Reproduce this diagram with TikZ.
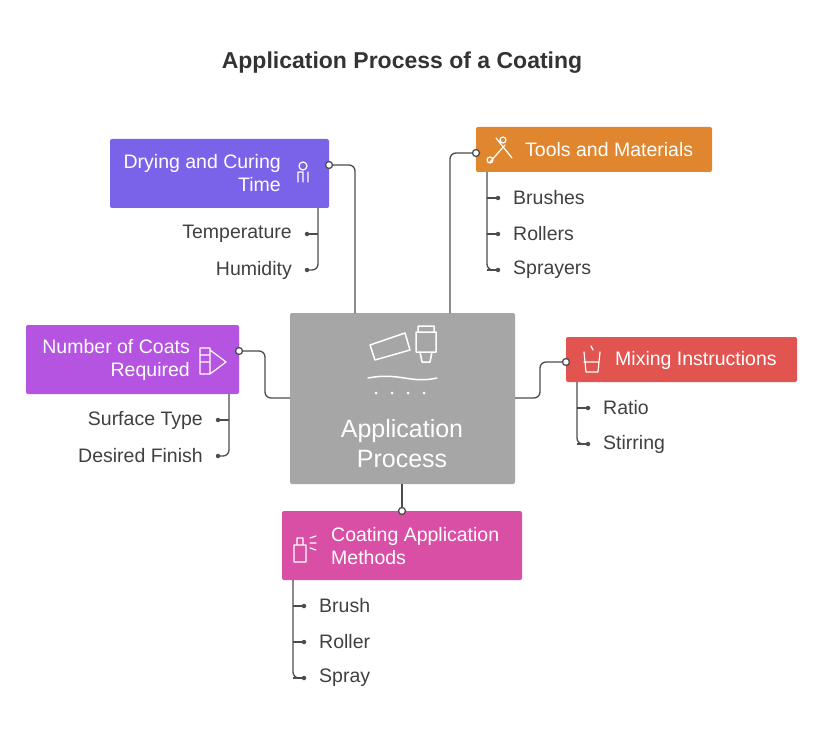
\documentclass[tikz,border=0pt]{standalone}
\usepackage{fontspec}
\setmainfont{Liberation Sans}
\begin{document}
\begin{tikzpicture}[x=1pt,y=-1pt,
 box/.style={draw=none,rounded corners=2pt},
 lbl/.style={text=white,font=\fontsize{19.5}{23}\selectfont,align=left,inner sep=0pt},
 item/.style={text=black!75,font=\fontsize{19.5}{23}\selectfont,inner sep=0pt},
 conn/.style={draw=black!70,line width=1.3pt,rounded corners=6pt},
 tick/.style={draw=black!70,line width=1.3pt},
 dot/.style={circle,fill=white,draw=black!70,line width=1.3pt,inner sep=0pt,minimum size=7pt},
 bul/.style={circle,fill=black!70,inner sep=0pt,minimum size=4.5pt},
 ic/.style={draw=white,line width=1.2pt,line cap=round,line join=round}]
\useasboundingbox (0,0) rectangle (827,738);
\node[font=\bfseries\fontsize{23}{27}\selectfont,text=black!80] (title) at (402,63) {Application Process of a Coating};
% central
\fill[black!35,rounded corners=2pt] (290,313) rectangle (515,484);
\node (c) at (402,398) {};
\node[text=white,font=\fontsize{25}{30}\selectfont,align=center] (ctext) at (402,444) {Application\\Process};
\draw[ic,line width=1.5pt] (370,345) -- (405,333) -- (410,350) -- (375,360) -- cycle;
\draw[ic,line width=1.5pt] (416,332) rectangle (436,352) (420,352) -- (422,362) -- (430,362) -- (432,352) (418,332) -- (418,326) -- (434,326) -- (434,332);
\draw[ic,line width=1.5pt] (368,378) .. controls (400,372) and (410,384) .. (437,378);
\foreach \x in {376,392,408,424} \fill[white] (\x,393) circle (1.5pt);
% Drying
\fill[box,fill={rgb,255:red,123;green,99;blue,233}] (110,139) rectangle (329,208);
\node[lbl,align=right,anchor=east] (dry) at (281,173) {Drying and Curing\\Time};
\draw[ic] (303,182) -- (303,172) -- (298,172) -- (298,182) (308,182)--(308,172) (303,166) circle (4pt);
\node[dot] (d1) at (329,165) {};
\draw[conn] (d1) -- (355,165) -- (355,313);
\draw[conn] (318,208) -- (318,270) -- (308,270);
\node[item,anchor=east] at (292,234) {Temperature}; \node[bul] (b1) at (307,234) {}; \draw[tick] (b1) -- (318,234);
\node[item,anchor=east] at (292,270) {Humidity}; \node[bul] at (307,270) {};
% Tools
\fill[box,fill={rgb,255:red,224;green,134;blue,47}] (476,127) rectangle (712,172);
\node[lbl,anchor=west] (tools) at (525,150) {Tools and Materials};
\draw[ic] (490,162) -- (505,145) (496,138) -- (512,158) (503,140) circle (3pt) (490,160) circle (3pt);
\node[dot] (t1) at (476,153) {};
\draw[conn] (t1) -- (450,153) -- (450,313);
\draw[conn] (487,172) -- (487,270) -- (497,270);
\foreach \t/\y in {Brushes/198,Rollers/234,Sprayers/270}{\node[item,anchor=west] at (513,\y) {\t}; \node[bul] at (498,\y) {}; \draw[tick] (487,\y) -- (498,\y);}
% Number of coats
\fill[box,fill={rgb,255:red,181;green,84;blue,224}] (26,325) rectangle (239,394);
\node[lbl,align=right,anchor=east] (num) at (190,360) {Number of Coats\\Required};
\draw[ic] (200,348) rectangle (210,374) (200,355)--(210,355) (200,362)--(210,362) (210,350) -- (226,362) -- (210,374);
\node[dot] (n1) at (239,351) {};
\draw[conn] (n1) -- (265,351) -- (265,398) -- (290,398);
\draw[conn] (229,394) -- (229,456) -- (219,456);
\node[item,anchor=east] at (203,420) {Surface Type}; \node[bul] at (218,420) {}; \draw[tick] (218,420) -- (229,420);
\node[item,anchor=east] at (203,456) {Desired Finish}; \node[bul] at (218,456) {};
% Mixing
\fill[box,fill={rgb,255:red,225;green,84;blue,80}] (566,337) rectangle (797,382);
\node[lbl,anchor=west] (mix) at (615,360) {Mixing Instructions};
\draw[ic] (584,352) -- (586,372) -- (598,372) -- (600,352) (584,362)--(599,362) (591,346)--(593,350);
\node[dot] (m1) at (566,362) {};
\draw[conn] (m1) -- (540,362) -- (540,398) -- (515,398);
\draw[conn] (577,382) -- (577,444) -- (587,444);
\foreach \t/\y in {Ratio/408,Stirring/444}{\node[item,anchor=west] at (603,\y) {\t}; \node[bul] at (588,\y) {}; \draw[tick] (577,\y) -- (588,\y);}
% Coating methods
\fill[box,fill={rgb,255:red,217;green,79;blue,166}] (282,511) rectangle (522,580);
\node[lbl,anchor=west] (coat) at (331,546) {Coating Application\\Methods};
\draw[ic] (294,545) rectangle (306,562) (297,545) -- (297,538) -- (303,538) -- (303,545) (310,538)--(316,536) (310,543)--(316,543) (310,548)--(316,550);
\node[dot] (k1) at (402,511) {};
\draw[conn] (k1) -- (402,484);
\draw[conn] (293,580) -- (293,678) -- (303,678);
\foreach \t/\y in {Brush/606,Roller/642,Spray/678}{\node[item,anchor=west] at (319,\y) {\t}; \node[bul] at (304,\y) {}; \draw[tick] (293,\y) -- (304,\y);}
\end{tikzpicture}
\end{document}
